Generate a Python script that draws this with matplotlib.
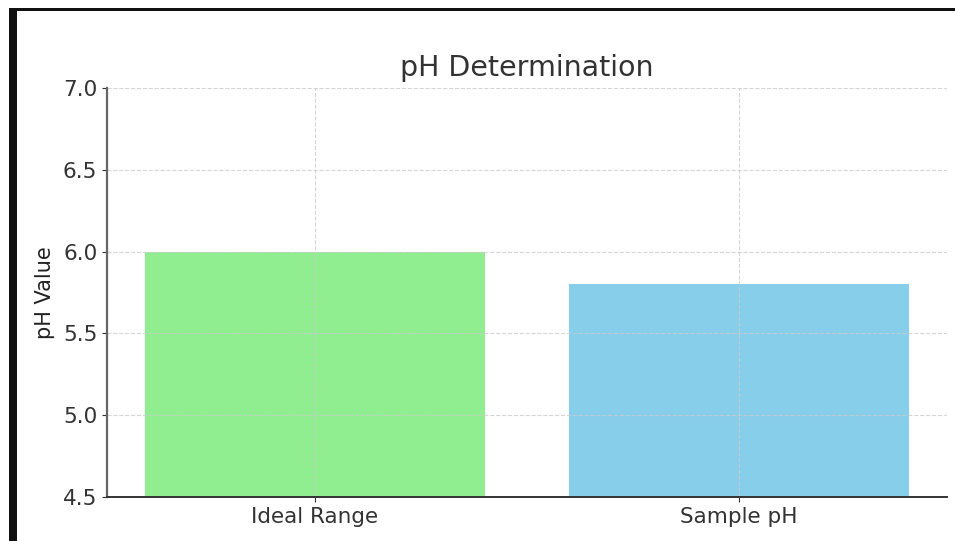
import matplotlib.pyplot as plt
from matplotlib.patches import Rectangle

labels = ["Ideal Range", "Sample pH"]
ph_values = [6.0, 5.8]
bar_colors = ["lightgreen", "skyblue"]

W, H = 955, 541
fig = plt.figure(figsize=(W / 100, H / 100), dpi=100)
ax = fig.add_axes([107 / W, 1 - 497 / H, (947 - 107) / W, (497 - 88) / H])

ax.bar(labels, ph_values, color=bar_colors, width=0.8)
ax.set_ylim(4.5, 7.0)
ax.set_yticks([4.5, 5.0, 5.5, 6.0, 6.5, 7.0])
ax.set_title("pH Determination", fontsize=20.5, color="#333333", pad=9)
ax.set_ylabel("pH Value", fontsize=15, color="#222222", labelpad=6)
ax.tick_params(labelsize=15.5, colors="#333333")
ax.grid(True, linestyle="--", linewidth=0.8, color="#cccccc", alpha=0.8)
for side in ("top", "right"):
    ax.spines[side].set_visible(False)
ax.spines["left"].set_color("#666666")
ax.spines["left"].set_linewidth(1.6)
ax.spines["bottom"].set_color("#333333")
ax.spines["bottom"].set_linewidth(1.4)

# dark frame along the left and top edges
fig.add_artist(Rectangle((9 / W, 0), 8 / W, 1 - 8 / H, transform=fig.transFigure,
                         color="#111111", lw=0))
fig.add_artist(Rectangle((9 / W, 1 - 11 / H), 1 - 9 / W, 3 / H,
                         transform=fig.transFigure, color="#111111", lw=0))

fig.savefig("out.png", dpi=100)
